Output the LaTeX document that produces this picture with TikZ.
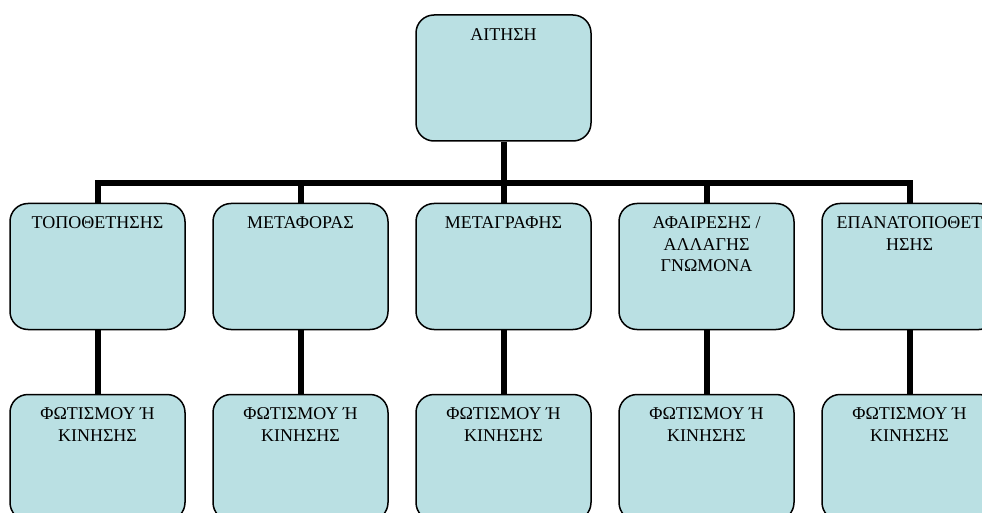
\documentclass[tikz,border=0pt]{standalone}
\usepackage{fontspec}
\setmainfont{Liberation Serif}
\definecolor{boxfill}{RGB}{186,224,227}
\begin{document}
\begin{tikzpicture}[x=1pt,y=-1pt,
  box/.style={draw=black, line width=1.5pt, fill=boxfill, rounded corners=18pt,
    minimum width=175pt, minimum height=126pt, inner sep=0pt},
  txt/.style={anchor=north, align=center, inner sep=0pt, yshift=-14pt,
    font=\fontsize{18pt}{21.5pt}\selectfont},
  conn/.style={draw=black, line width=6pt, line join=miter}]
\useasboundingbox (0,0) rectangle (982,513);
\clip (0,0) rectangle (982,513);
\node[box, label={[txt]north:ΑΙΤΗΣΗ}] (top) at (503.5,78) {};
\node[box, label={[txt]north:ΤΟΠΟΘΕΤΗΣΗΣ}] (a1) at (97.5,266.5) {};
\node[box, label={[txt]north:ΜΕΤΑΦΟΡΑΣ}] (a2) at (300.5,266.5) {};
\node[box, label={[txt]north:ΜΕΤΑΓΡΑΦΗΣ}] (a3) at (503.5,266.5) {};
\node[box, label={[txt]north:ΑΦΑΙΡΕΣΗΣ /\\ΑΛΛΑΓΗΣ\\ΓΝΩΜΟΝΑ}] (a4) at (706.5,266.5) {};
\node[box, label={[txt]north:ΕΠΑΝΑΤΟΠΟΘΕΤ\\ΗΣΗΣ}] (a5) at (909.5,266.5) {};
\foreach \i/\x in {1/97.5,2/300.5,3/503.5,4/706.5,5/909.5}{
  \node[box, label={[txt]north:ΦΩΤΙΣΜΟΥ Ή\\ΚΙΝΗΣΗΣ}] (b\i) at (\x,457.5) {};
}
\coordinate (bar) at (0,183);
\draw[conn] (top.south) -- (top.south |- bar);
\draw[conn] (a1.north) -- (a1.north |- bar) -- (a5.north |- bar) -- (a5.north);
\foreach \i in {2,3,4}{
  \draw[conn] (a\i.north |- bar) -- (a\i.north);
}
\foreach \i in {1,...,5}{
  \draw[conn] (a\i.south) -- (b\i.north);
}
\end{tikzpicture}
\end{document}
